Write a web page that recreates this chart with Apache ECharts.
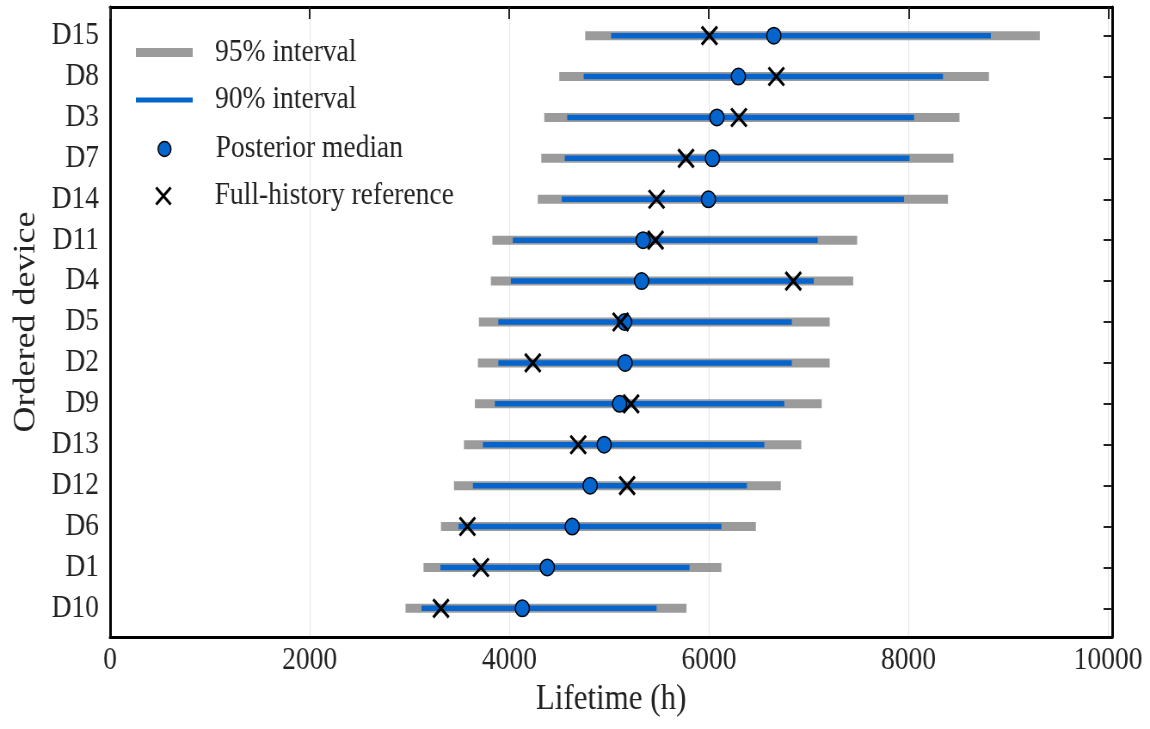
<!DOCTYPE html>
<html>
<head>
<meta charset="utf-8">
<script src="https://cdn.jsdelivr.net/npm/echarts@6/dist/echarts.min.js"></script>
<style>
  html, body { margin: 0; padding: 0; background: #fff; overflow: hidden; }
  #wrap { width: 1150px; height: 729px; overflow: hidden; }
  /* the figure is laid out wider and then narrowed horizontally */
  #chart { width: 1337px; height: 729px; transform: scaleX(0.86013); transform-origin: 0 0; }
</style>
</head>
<body>
<div id="wrap"><div id="chart"></div></div>
<script>
// Devices, ordered from bottom to top of the figure
const devices   = ['D10', 'D1', 'D6', 'D12', 'D13', 'D9', 'D2', 'D5', 'D4', 'D11', 'D14', 'D7', 'D3', 'D8', 'D15'];
// Posterior lifetime summaries (hours)
const lower95   = [2960, 3140, 3315, 3445, 3545, 3655, 3685, 3695, 3815, 3830, 4285, 4320, 4350, 4500, 4760];
const lower90   = [3120, 3310, 3490, 3635, 3735, 3855, 3890, 3890, 4015, 4035, 4525, 4555, 4580, 4745, 5020];
const median    = [4130, 4380, 4630, 4810, 4950, 5105, 5160, 5155, 5325, 5340, 5995, 6035, 6080, 6295, 6650];
const upper90   = [5475, 5805, 6125, 6380, 6555, 6755, 6830, 6830, 7050, 7090, 7955, 8010, 8055, 8345, 8825];
const upper95   = [5775, 6125, 6470, 6720, 6925, 7130, 7210, 7210, 7445, 7485, 8395, 8450, 8510, 8805, 9315];
// Lifetime estimated from the full history
const reference = [3315, 3715, 3580, 5180, 4690, 5220, 4235, 5115, 6845, 5465, 5475, 5770, 6300, 6675, 6005];
const xTicks    = [0, 2000, 4000, 6000, 8000, 10000];

const FONT = 'Liberation Serif';
const GRAY = '#9b9b9b';
const BLUE = '#0565cc';
const CROSS = 'path://M0,0L1,1M1,0L0,1';
const rows = devices.map((_, i) => i);

function intervalItem(color, width) {
  return function (params, api) {
    const y = api.value(2);
    const a = api.coord([api.value(0), y]);
    const b = api.coord([api.value(1), y]);
    return {
      type: 'line',
      shape: { x1: a[0], y1: a[1], x2: b[0], y2: b[1] },
      style: { stroke: color, lineWidth: width, lineCap: 'butt' }
    };
  };
}

const legendText = { fontFamily: FONT, fontSize: 32, color: '#222' };
function legendAt(name, top, left, w, h, icon, pad, itemStyle) {
  return {
    data: [name], top: top, left: left, padding: 0,
    itemWidth: w, itemHeight: h, icon: icon,
    itemStyle: itemStyle, selectedMode: false,
    textStyle: Object.assign({ padding: [0, 0, 0, pad] }, legendText)
  };
}

const chart = echarts.init(document.getElementById('chart'), null, { renderer: 'canvas' });
chart.setOption({
  animation: false,
  backgroundColor: '#fff',
  grid: { left: 128, right: 44, top: 7, bottom: 92 },
  legend: [
    legendAt('95% interval', 36.5, 158, 66, 9, 'rect', 21, { color: GRAY }),
    legendAt('90% interval', 84, 158, 66, 5, 'rect', 21, { color: BLUE }),
    legendAt('Posterior median', 133, 183, 17, 15, 'circle', 46, { color: BLUE, borderColor: '#000', borderWidth: 1.5 }),
    legendAt('Full-history reference', 180, 180, 21, 17, CROSS, 44, { color: 'transparent', borderColor: '#000', borderWidth: 3 })
  ],
  xAxis: [
    {
      type: 'value', position: 'bottom', min: 0, max: 10040, interval: 2000,
      name: 'Lifetime (h)', nameLocation: 'middle', nameGap: 41,
      nameTextStyle: { fontFamily: FONT, fontSize: 36, color: '#222' },
      axisLine: { show: true, onZero: false, lineStyle: { color: '#000', width: 3 } },
      axisTick: { show: false },
      axisLabel: {
        fontFamily: FONT, fontSize: 32, color: '#222', margin: 8, showMaxLabel: false,
        formatter: v => String(v)
      },
      splitLine: { show: true, lineStyle: { color: '#e4e4e4', width: 1 } }
    },
    {
      type: 'value', position: 'top', min: 0, max: 10040, interval: 2000,
      axisLine: { show: true, onZero: false, lineStyle: { color: '#000', width: 3 } },
      axisTick: { show: true, inside: true, length: 12, customValues: xTicks, lineStyle: { color: '#222', width: 2 } },
      axisLabel: { show: false },
      splitLine: { show: false }
    }
  ],
  yAxis: [
    {
      type: 'value', position: 'left', min: -0.7, max: 14.7,
      name: 'Ordered device', nameLocation: 'middle', nameGap: 75,
      nameTextStyle: { fontFamily: FONT, fontSize: 36, color: '#222' },
      axisLine: { show: true, onZero: false, lineStyle: { color: '#000', width: 3 } },
      axisTick: { show: false },
      axisLabel: {
        customValues: rows, fontFamily: FONT, fontSize: 32, color: '#222', margin: 13,
        padding: [7, 0, 0, 0],
        formatter: v => devices[Math.round(v)]
      },
      splitLine: { show: false }
    },
    {
      type: 'value', position: 'right', min: -0.7, max: 14.7,
      axisLine: { show: true, onZero: false, lineStyle: { color: '#000', width: 3 } },
      axisTick: { show: true, inside: true, length: 10, customValues: rows, lineStyle: { color: '#222', width: 2 } },
      axisLabel: { show: false },
      splitLine: { show: false }
    }
  ],
  series: [
    {
      name: '95% interval', type: 'custom', xAxisIndex: 0, yAxisIndex: 0, z: 2,
      itemStyle: { color: GRAY },
      encode: { x: [0, 1], y: 2 },
      data: rows.map(i => [lower95[i], upper95[i], i]),
      renderItem: intervalItem(GRAY, 9)
    },
    {
      name: '90% interval', type: 'custom', xAxisIndex: 0, yAxisIndex: 0, z: 3,
      itemStyle: { color: BLUE },
      encode: { x: [0, 1], y: 2 },
      data: rows.map(i => [lower90[i], upper90[i], i]),
      renderItem: intervalItem(BLUE, 5.5)
    },
    {
      name: 'Posterior median', type: 'scatter', xAxisIndex: 0, yAxisIndex: 0, z: 4,
      symbol: 'circle', symbolSize: 16.5,
      itemStyle: { color: BLUE, borderColor: '#000', borderWidth: 1.5, opacity: 1 },
      data: rows.map(i => [median[i], i])
    },
    {
      name: 'Full-history reference', type: 'scatter', xAxisIndex: 0, yAxisIndex: 0, z: 5,
      symbol: CROSS, symbolSize: 18,
      itemStyle: { color: 'transparent', borderColor: '#000', borderWidth: 3, opacity: 1 },
      data: rows.map(i => [reference[i], i])
    }
  ]
});
</script>
</body>
</html>
